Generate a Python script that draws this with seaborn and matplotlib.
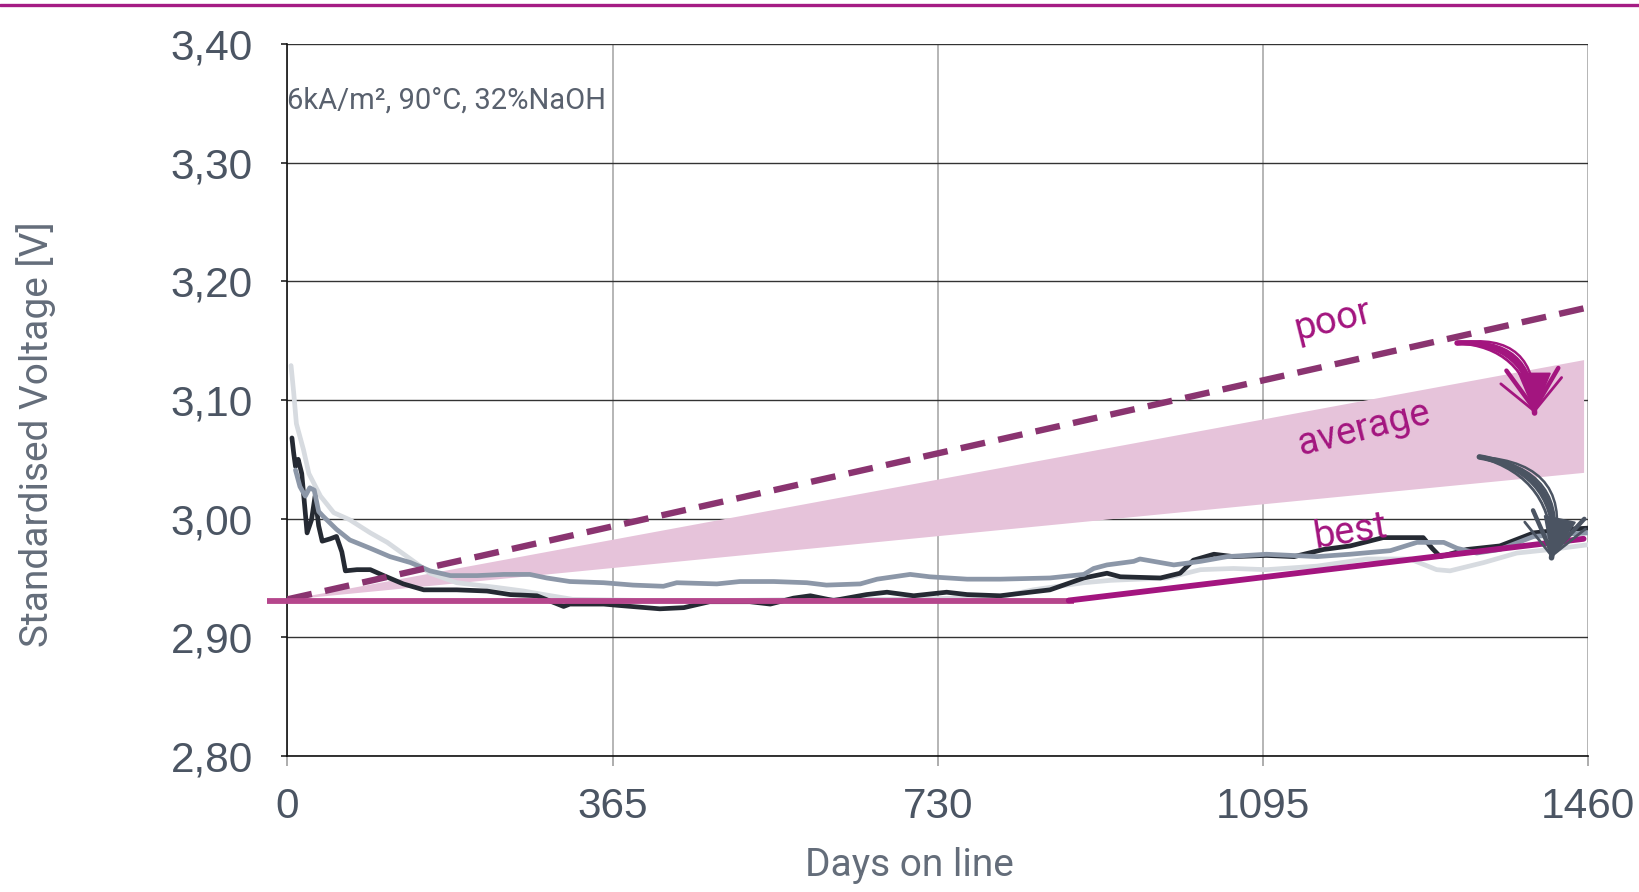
import numpy as np
import pandas as pd
import matplotlib
matplotlib.use("Agg")
import matplotlib.pyplot as plt
import seaborn as sns
from matplotlib.lines import Line2D

# ---------------- data ----------------
light_days = [4, 7, 10, 18, 24, 37, 52, 70, 93, 112, 138, 160, 190, 235, 265, 288, 320, 400, 500, 600,
              700, 800, 837, 894, 924, 987, 1025, 1062, 1099, 1156, 1212, 1260, 1290, 1305, 1343, 1380,
              1418, 1460]
light_v = [3.129, 3.106, 3.080, 3.058, 3.038, 3.019, 3.005, 2.999, 2.988, 2.980, 2.966, 2.954, 2.946,
           2.942, 2.939, 2.936, 2.932, 2.931, 2.931, 2.932, 2.932, 2.934, 2.940, 2.946, 2.948, 2.950,
           2.957, 2.958, 2.957, 2.960, 2.966, 2.966, 2.957, 2.956, 2.963, 2.971, 2.974, 2.978]

blue_days = [9, 14, 20, 25, 30, 35, 40, 55, 70, 93, 115, 138, 160, 183, 213, 243, 272, 291, 317, 355,
             388, 422, 437, 482, 508, 546, 583, 605, 643, 662, 699, 721, 763, 800, 856, 894, 905, 920,
             950, 957, 995, 1025, 1055, 1099, 1156, 1193, 1238, 1268, 1298, 1313, 1335, 1361, 1399,
             1436, 1460]
blue_v = [3.041, 3.027, 3.019, 3.026, 3.024, 3.006, 3.002, 2.991, 2.982, 2.975, 2.968, 2.963, 2.956,
          2.952, 2.952, 2.953, 2.953, 2.950, 2.947, 2.946, 2.944, 2.943, 2.946, 2.945, 2.947, 2.947,
          2.946, 2.944, 2.945, 2.949, 2.953, 2.951, 2.949, 2.949, 2.950, 2.953, 2.958, 2.961, 2.964,
          2.966, 2.961, 2.964, 2.968, 2.970, 2.968, 2.970, 2.973, 2.980, 2.980, 2.975, 2.971, 2.974,
          2.985, 2.987, 2.988]

black_days = [5, 7, 9, 12, 16, 20, 22, 27, 31, 35, 39, 48, 55, 61, 65, 78, 93, 108, 130, 153, 190, 224,
              250, 280, 310, 317, 355, 370, 418, 445, 474, 519, 542, 568, 587, 613, 650, 673, 703, 740,
              763, 800, 856, 894, 920, 935, 980, 1002, 1017, 1040, 1062, 1099, 1130, 1163, 1193, 1230,
              1275, 1285, 1294, 1324, 1361, 1399, 1436, 1460]
black_v = [3.068, 3.055, 3.044, 3.050, 3.038, 3.005, 2.988, 2.999, 3.019, 2.994, 2.981, 2.983, 2.985,
           2.972, 2.956, 2.957, 2.957, 2.952, 2.945, 2.940, 2.940, 2.939, 2.936, 2.935, 2.926, 2.928,
           2.928, 2.927, 2.924, 2.925, 2.930, 2.930, 2.928, 2.933, 2.935, 2.931, 2.936, 2.938, 2.935,
           2.938, 2.936, 2.935, 2.940, 2.950, 2.954, 2.951, 2.950, 2.954, 2.965, 2.970, 2.968, 2.969,
           2.968, 2.974, 2.977, 2.984, 2.984, 2.975, 2.968, 2.974, 2.977, 2.988, 2.991, 2.992]

best_flat_days = [-23, 883]
best_flat_v = [2.931, 2.931]
best_rise_days = [877, 1455]
best_rise_v = [2.931, 2.983]

poor_days = [0, 1460]
poor_v = [2.932, 3.178]

avg_days = [0, 1455]
avg_low = [2.932, 3.039]
avg_high = [2.932, 3.134]

x_ticks = [0, 365, 730, 1095, 1460]
x_tick_labels = ["0", "365", "730", "1095", "1460"]
y_ticks = [2.80, 2.90, 3.00, 3.10, 3.20, 3.30, 3.40]
y_tick_labels = ["2,80", "2,90", "3,00", "3,10", "3,20", "3,30", "3,40"]

labels_text = ["poor", "average", "best"]
labels_pos = [(1174, 3.167), (1208, 3.076), (1193, 2.989)]
labels_rot = [14, 14, 9]

arrow_magenta = [(1313, 3.148), (1400, 3.089)]
arrow_gray = [(1338, 3.052), (1419, 2.967)]

note = "6kA/m², 90°C, 32%NaOH"
xlabel = "Days on line"
ylabel = "Standardised Voltage [V]"

# ---------------- style ----------------
sns.set_theme(style="white")
plt.rcParams['font.family'] = ['Roboto', 'DejaVu Sans']

MAGENTA = "#A3157F"
MAGENTA_LIGHT = "#B5468C"
POOR_C = "#8A3470"
BAND_C = "#E6C3DA"
TICK_C = "#4B5563"
LABEL_C = "#646D7A"

fig = plt.figure(figsize=(16.39, 8.92), dpi=100)
ax = fig.add_axes([0.1754, 0.1525, 0.7935, 0.7982])

# top decorative line
fig.add_artist(Line2D([0, 1], [1 - 5 / 892, 1 - 5 / 892], transform=fig.transFigure,
                      color="#A51C84", lw=2.4))

# average band
ax.fill_between(avg_days, avg_low, avg_high, color=BAND_C, lw=0, zorder=1)

# data curves
df = pd.concat([
    pd.DataFrame({"day": light_days, "v": light_v, "cell": "c"}),
    pd.DataFrame({"day": blue_days, "v": blue_v, "cell": "b"}),
    pd.DataFrame({"day": black_days, "v": black_v, "cell": "a"}),
])
palette = {"c": "#D7DBE0", "b": "#8C97A8", "a": "#252A33"}
for cell in ["c", "a", "b"]:
    sns.lineplot(data=df[df.cell == cell], x="day", y="v", color=palette[cell], linewidth=3.4,
                 ax=ax, zorder=3, estimator=None, sort=False)

# poor line
sns.lineplot(x=poor_days, y=poor_v, ax=ax, color=POOR_C, linewidth=4.6, zorder=5)
ax.lines[-1].set_dashes((3.9, 2.1))

# best line
sns.lineplot(x=best_flat_days, y=best_flat_v, ax=ax, color=MAGENTA_LIGHT, linewidth=4.2, zorder=6)
ax.lines[-1].set_clip_on(False)
ax.lines[-1].set_solid_capstyle("butt")
sns.lineplot(x=best_rise_days, y=best_rise_v, ax=ax, color=MAGENTA, linewidth=4.2, zorder=6)

# labels
for t, (px, py), r in zip(labels_text, labels_pos, labels_rot):
    ax.text(px, py, t, color=MAGENTA, fontsize=27.5, rotation=r, rotation_mode="anchor",
            ha="center", va="center", zorder=7)

# sketchy arrows
for (s, e), col in [(arrow_magenta, MAGENTA), (arrow_gray, "#4B5462")]:
    for rad, lw, hs in [(-0.5, 4.0, "-"),
                        (-0.40, 2.0, "-"),
                        (-0.62, 1.8, "-"),
                        (-0.5, 3.2, "->,head_length=1.3,head_width=0.85"),
                        (-0.45, 2.0, "->,head_length=1.0,head_width=1.0"),
                        (-0.55, 1.5, "-|>,head_length=1.2,head_width=0.5")]:
        ax.annotate("", xy=e, xytext=s,
                    arrowprops=dict(arrowstyle=hs, color=col, lw=lw,
                                    connectionstyle=f"arc3,rad={rad}",
                                    mutation_scale=22,
                                    shrinkA=0, shrinkB=0), zorder=8)

ax.text(0, 3.352, note, fontsize=21, color="#59616E", ha="left", va="center", zorder=7)

# axes
ax.set_xlim(0, 1460)
ax.set_ylim(2.80, 3.40)
ax.set_xticks(x_ticks)
ax.set_xticklabels(x_tick_labels)
ax.set_yticks(y_ticks)
ax.set_yticklabels(y_tick_labels)
for lab in ax.get_xticklabels() + ax.get_yticklabels():
    lab.set_fontfamily(["Liberation Sans", "DejaVu Sans"])
    lab.set_fontsize(30.5)
    lab.set_color(TICK_C)

ax.tick_params(axis="x", length=7, width=1.2, color="#A0A0A0", pad=15, bottom=True)
ax.tick_params(axis="y", length=4, width=1.2, color="#222222", pad=21, left=True)

ax.yaxis.grid(True, color="#333333", lw=1.0)
ax.xaxis.grid(True, color="#B0B0B0", lw=1.3)
ax.set_axisbelow(True)

for side in ["top", "right"]:
    ax.spines[side].set_visible(False)
ax.spines["left"].set_color("#111111")
ax.spines["left"].set_linewidth(1.2)
ax.spines["bottom"].set_color("#111111")
ax.spines["bottom"].set_linewidth(1.2)

ax.set_xlabel(xlabel, fontsize=28, color=LABEL_C, va="center")
ax.xaxis.set_label_coords(0.478, -0.154)
ax.set_ylabel(ylabel, fontsize=28, color=LABEL_C, va="center")
ax.yaxis.set_label_coords(-0.1935, 0.452)

fig.savefig("out.png", dpi=100)
